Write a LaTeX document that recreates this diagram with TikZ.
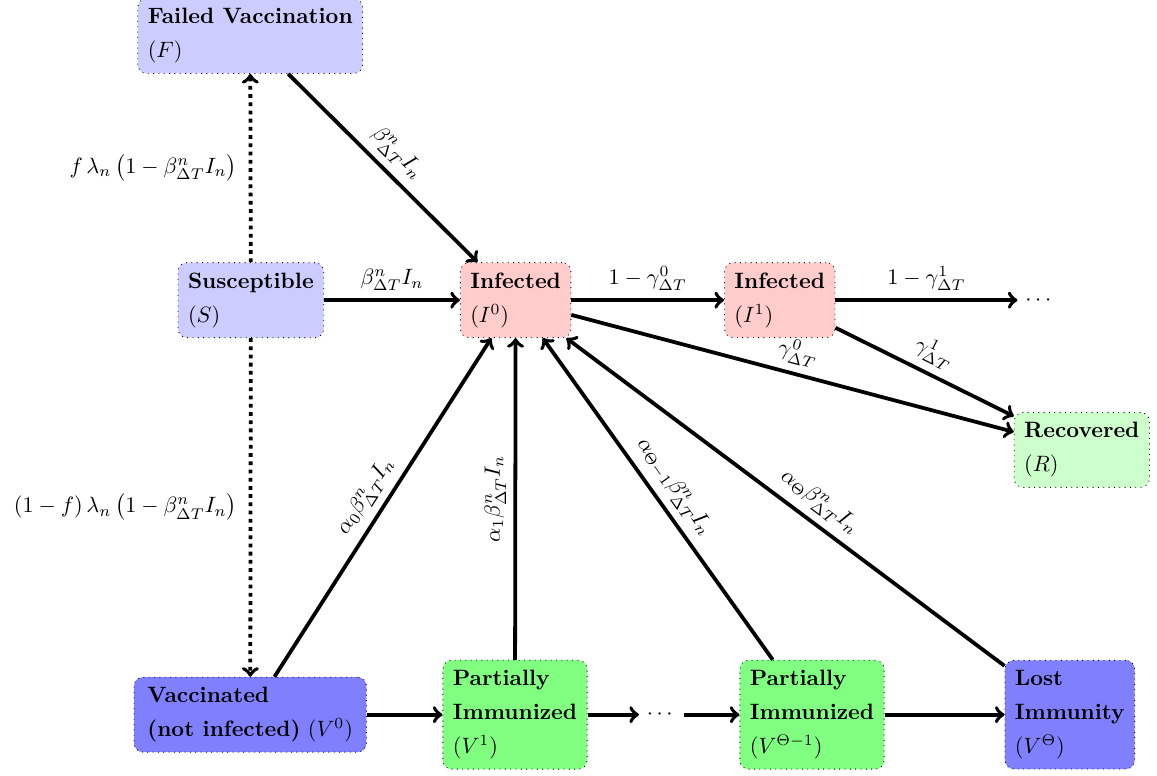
\documentclass[tikz,border=0pt]{standalone}
\usepackage{amsmath}
\usetikzlibrary{arrows,positioning,shapes}

\begin{document}
\begin{tikzpicture}[
    comp/.style={draw, dotted, rounded corners=4pt, align=left, inner sep=4.5pt},
    flow/.style={->, line width=1.7pt},
    vacflow/.style={->, line width=1.7pt, dotted},
  ]
  \useasboundingbox (0,0) rectangle (18.31,-12.28);

  % susceptible, failed vaccination
  \node[comp, fill=blue!20] (fail) at (3.96,-0.57) {\textbf{Failed Vaccination}\\[3.3pt] $(F)$};
  \node[comp, fill=blue!20] (susc) at (3.97,-4.75) {\textbf{Susceptible}\\[3.3pt] $(S)$};

  % infected chain
  \node[comp, fill=red!20] (inf0) at (8.16,-4.75) {\textbf{Infected}\\[3.3pt] $(I^0)$};
  \node[comp, fill=red!20] (inf1) at (12.34,-4.75) {\textbf{Infected}\\[3.3pt] $(I^1)$};
  \node (infdots) at (16.46,-4.75) {$\cdots$};
  \node[comp, fill=green!20] (recov) at (17.12,-7.12) {\textbf{Recovered}\\[3.3pt] $(R)$};

  % vaccinated chain
  \node[comp, fill=blue!50, inner xsep=6pt] (vac0) at (3.96,-11.31) {\textbf{Vaccinated}\\[3.3pt] \textbf{(not infected)} $(V^0)$};
  \node[comp, fill=green!50] (vac1) at (8.15,-11.31) {\textbf{Partially}\\[3.3pt] \textbf{Immunized}\\[3.3pt] $(V^1)$};
  \node (vacdots) at (10.47,-11.31) {$\cdots$};
  \node[comp, fill=green!50] (vacm) at (12.85,-11.31) {\textbf{Partially}\\[3.3pt] \textbf{Immunized}\\[3.3pt] $(V^{\Theta-1})$};
  \node[comp, fill=blue!50] (vact) at (16.93,-11.31) {\textbf{Lost}\\[3.3pt] \textbf{Immunity}\\[3.3pt] $(V^{\Theta})$};

  % vaccination
  \draw[vacflow] (susc) -- node[midway, left=2pt] {$f\,\lambda_n\,\bigl(1-\beta^n_{\Delta T} I_n\bigr)$} (fail);
  \draw[vacflow] (susc) -- node[midway, left=2pt] {$(1-f)\,\lambda_n\,\bigl(1-\beta^n_{\Delta T} I_n\bigr)$} (vac0);

  % infection
  \draw[flow] (fail) -- node[midway, above, sloped] {$\beta^n_{\Delta T} I_n$} (inf0);
  \draw[flow] (susc) -- node[midway, above] {$\beta^n_{\Delta T} I_n$} (inf0);
  \draw[flow] (vac0) -- node[midway, above, sloped] {$\alpha_0 \beta^n_{\Delta T} I_n$} (inf0);
  \draw[flow] (vac1) -- node[midway, above, sloped] {$\alpha_1 \beta^n_{\Delta T} I_n$} (inf0);
  \draw[flow] (vacm) -- node[midway, above, sloped] {$\alpha_{\Theta-1} \beta^n_{\Delta T} I_n$} (inf0);
  \draw[flow] (vact) -- node[pos=.45, above, sloped] {$\alpha_{\Theta} \beta^n_{\Delta T} I_n$} (inf0);

  % progression and recovery
  \draw[flow] (inf0) -- node[midway, above] {$1-\gamma^0_{\Delta T}$} (inf1);
  \draw[flow] (inf1) -- node[midway, above] {$1-\gamma^1_{\Delta T}$} (infdots);
  \draw[flow] (inf0) -- node[midway, above, sloped] {$\gamma^0_{\Delta T}$} (recov);
  \draw[flow] (inf1) -- node[midway, above, sloped] {$\gamma^1_{\Delta T}$} (recov);

  % waning of vaccine protection
  \draw[flow] (vac0) -- (vac1);
  \draw[flow] (vac1) -- (vacdots);
  \draw[flow] (vacdots) -- (vacm);
  \draw[flow] (vacm) -- (vact);
\end{tikzpicture}
\end{document}
